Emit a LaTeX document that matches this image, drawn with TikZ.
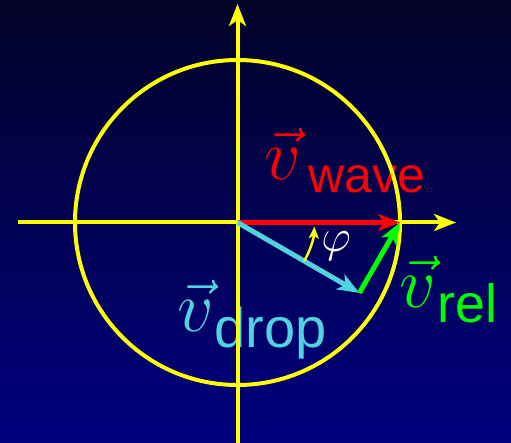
\RequirePackage{fix-cm}
\documentclass[tikz,border=0pt]{standalone}
\usepackage{fontspec}
\setsansfont{Liberation Sans}
\usetikzlibrary{arrows.meta,calc}
\definecolor{bgtop}{RGB}{3,3,40}
\definecolor{bgbot}{RGB}{0,0,128}
\definecolor{axisyellow}{RGB}{255,255,0}
\definecolor{dropcyan}{RGB}{80,210,225}
\definecolor{relgreen}{RGB}{0,255,0}
\tikzset{
  bigtip/.style={-{Stealth[length=22pt,width=17pt,inset=6pt]}},
  axisline/.style={draw=axisyellow,line width=4pt,bigtip},
  ringline/.style={draw=axisyellow,line width=4pt},
  vecline/.style={line width=5pt,bigtip},
  philine/.style={draw=axisyellow,line width=2.5pt,-{Stealth[length=12pt,width=10pt,inset=3pt]}},
  lbl/.style={inner sep=0pt,anchor=base west},
}
% #1 text, #2 kern, #3 lowering, #4 font size
\newcommand{\vlabel}[4]{\fontsize{72}{80}\selectfont$\vec v_{\hbox{\kern#2\lower#3\hbox{\fontsize{#4}{60}\selectfont\sffamily #1}}}$}
\begin{document}
\begin{tikzpicture}[x=1pt,y=-1pt]
\useasboundingbox (0,0) rectangle (511,443);
\fill[top color=bgtop,bottom color=bgbot] (0,0) rectangle (511,443);
\coordinate (O) at (237.5,222.5);
\coordinate (W) at (400,222.5);
\coordinate (D) at ($(O)+(121.9,70.4)$);
\coordinate (xs) at (18,222.5);
\coordinate (xe) at (456,222.5);
\coordinate (ys) at (237.5,446);
\coordinate (ye) at (237.5,4);
% labels (under the lines)
\node[lbl,text=red] (lwave) at (264,180) {\vlabel{wave}{10pt}{2pt}{50}};
\node[lbl,text=dropcyan] (ldrop) at (177,332) {\vlabel{drop}{3pt}{0pt}{56}};
\node[lbl,text=relgreen] (lrel) at (399,308) {\vlabel{rel}{4.5pt}{1pt}{54}};
% circle
\draw[ringline] (O) circle[radius=162.5];
% axes
\draw[axisline] (xs) -- (xe);
\draw[axisline] (ys) -- (ye);
% vectors
\draw[vecline,draw=red,line width=5.5pt] (O) -- (W);
\draw[vecline,draw=dropcyan,fill=dropcyan] (O) -- (D);
\draw[vecline,draw=relgreen] (D) -- (W);
% angle
\draw[philine] ($(O)+(30:77)$) arc[start angle=30,end angle=3,radius=77];
\node[inner sep=0pt,text=white] (phi) at (336,246) {\fontsize{46}{52}\selectfont$\varphi$};
\end{tikzpicture}
\end{document}
